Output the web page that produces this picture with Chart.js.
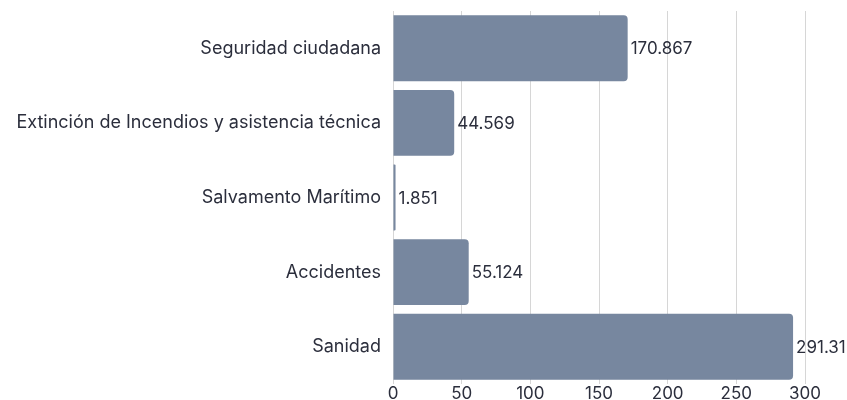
<!DOCTYPE html>
<html>
<head>
<meta charset="utf-8">
<script src="https://cdn.jsdelivr.net/npm/chart.js@4"></script>
<style>
  html, body { margin: 0; padding: 0; background: #fff; }
  #wrap { width: 847px; height: 400px; }
</style>
</head>
<body>
<div id="wrap"><canvas id="barChart"></canvas></div>
<script>
var categorias = ["Seguridad ciudadana", "Extinción de Incendios y asistencia técnica", "Salvamento Marítimo", "Accidentes", "Sanidad"];
var valores = [170.867, 44.569, 1.851, 55.124, 291.31];
var etiquetas = ["170.867", "44.569", "1.851", "55.124", "291.31"];
var ticksX = [0, 50, 100, 150, 200, 250, 300];

var fuente = "Inter, 'Noto Sans', sans-serif";
var colorTexto = "#2b2e3c";

// etiquetas de valor al final de cada barra
var valorLabels = {
  id: 'valorLabels',
  afterDatasetsDraw: function(chart) {
    var ctx = chart.ctx;
    var meta = chart.getDatasetMeta(0);
    ctx.save();
    ctx.font = "17px " + fuente;
    ctx.fillStyle = colorTexto;
    ctx.textAlign = "left";
    ctx.textBaseline = "middle";
    meta.data.forEach(function(bar, i) {
      ctx.fillText(etiquetas[i], bar.x + 3, bar.y + 1);
    });
    ctx.restore();
  }
};

var ctxB = document.getElementById("barChart").getContext('2d');
var myBarChart = new Chart(ctxB, {
  type: 'bar',
  data: {
    labels: categorias,
    datasets: [{
      data: valores,
      backgroundColor: "#77879f",
      borderRadius: 4,
      borderSkipped: 'start',
      barPercentage: 0.94,
      categoryPercentage: 0.94
    }]
  },
  options: {
    indexAxis: 'y',
    responsive: true,
    maintainAspectRatio: false,
    animation: false,
    layout: { padding: { top: 11, right: 42, bottom: 0, left: 0 } },
    plugins: {
      legend: { display: false },
      tooltip: { enabled: false }
    },
    scales: {
      x: {
        min: 0,
        max: 300,
        afterBuildTicks: function(axis) {
          axis.ticks = ticksX.map(function(v) { return { value: v }; });
        },
        afterFit: function(axis) { axis.height = 16; },
        grid: { color: "#d6d6d6", drawTicks: false },
        border: { display: false },
        ticks: { padding: 0, color: colorTexto, font: { family: fuente, size: 17 }, maxRotation: 0 }
      },
      y: {
        afterFit: function(axis) {
          axis.width = 393;
          axis.paddingTop = 0;
          axis.paddingBottom = 0;
        },
        grid: { display: false, drawTicks: false },
        border: { display: false },
        ticks: { padding: 12, color: colorTexto, font: { family: fuente, size: 18 } }
      }
    }
  },
  plugins: [valorLabels]
});
</script>
</body>
</html>
